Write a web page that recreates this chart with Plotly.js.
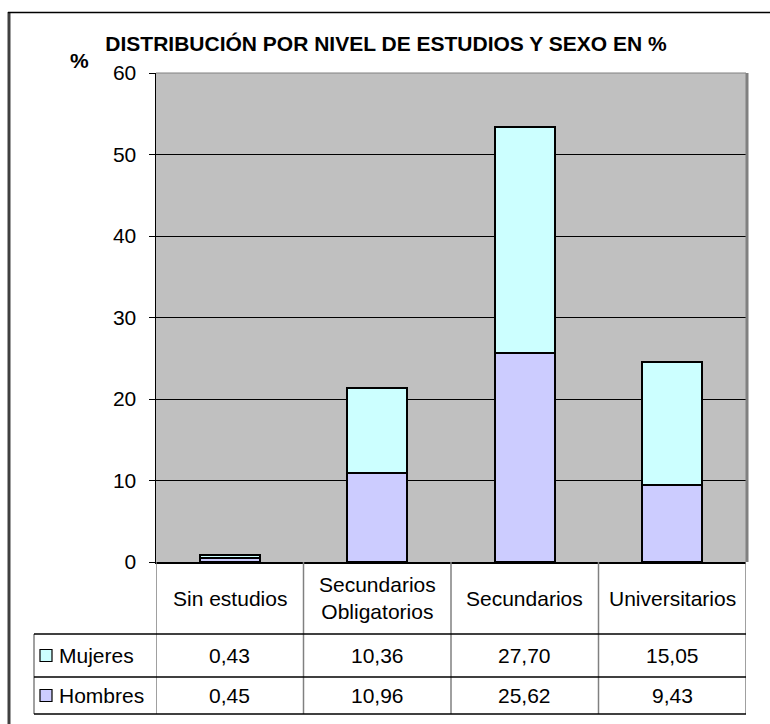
<!DOCTYPE html>
<html>
<head>
<meta charset="utf-8">
<script src="https://cdn.plot.ly/plotly-3.0.1.min.js"></script>
<style>html,body{margin:0;padding:0;background:#fff;}#chart{width:770px;height:724px;}</style>
</head>
<body>
<div id="chart"></div>
<script>
// ---- data ----
const categories = ['Sin estudios', 'Secundarios<br>Obligatorios', 'Secundarios', 'Universitarios'];
const seriesNames = ['Mujeres', 'Hombres'];
const mujeres = [0.43, 10.36, 27.70, 15.05];
const hombres = [0.45, 10.96, 25.62, 9.43];
const yTicks = [0, 10, 20, 30, 40, 50, 60];
const titleText = 'DISTRIBUCIÓN POR NIVEL DE ESTUDIOS Y SEXO EN %';
const yTitle = '%';

// ---- geometry (pixels) ----
const W = 770, H = 724;
const L = 156, R = 746, T = 73, B = 562;
const rowLines = [634, 677, 714];
const px = p => (p - L) / (R - L);
const py = p => (B - p) / (B - T);
const FONT = 'Liberation Sans, Arial, sans-serif';
const FS = 21;
const colM = '#CCFFFF', colH = '#CCCCFF';

const xs = categories.map((c, i) => i);
const fmt = v => v.toFixed(2).replace('.', ',');

const traces = [
  {type: 'bar', name: seriesNames[1], x: xs, y: hombres, width: 0.41,
   marker: {color: colH, line: {color: '#000', width: 2}}, hoverinfo: 'skip'},
  {type: 'bar', name: seriesNames[0], x: xs, y: mujeres, width: 0.41,
   marker: {color: colM, line: {color: '#000', width: 2}}, hoverinfo: 'skip'}
];

const shapes = [];
const annotations = [];
// outer frame
shapes.push({type: 'line', xref: 'paper', yref: 'paper', x0: px(9), x1: px(9), y0: py(12), y1: py(740), line: {color: '#404040', width: 3}});
shapes.push({type: 'line', xref: 'paper', yref: 'paper', x0: px(8), x1: px(790), y0: py(12.5), y1: py(12.5), line: {color: '#000', width: 1.5}});
// plot border
shapes.push({type: 'line', xref: 'paper', yref: 'paper', x0: 0, x1: 1, y0: 1, y1: 1, line: {color: '#808080', width: 1}});
shapes.push({type: 'line', xref: 'paper', yref: 'paper', x0: px(R + 1), x1: px(R + 1), y0: 1, y1: 0, line: {color: '#808080', width: 3}});
// table vertical lines
for (let i = 0; i <= categories.length; i++) {
  shapes.push({type: 'line', xref: 'x', yref: 'paper', x0: i - 0.5, x1: i - 0.5, y0: py(B), y1: py(rowLines[2]), line: {color: '#808080', width: 1.5}});
}
shapes.push({type: 'line', xref: 'paper', yref: 'paper', x0: px(34), x1: px(34), y0: py(rowLines[0]), y1: py(rowLines[2]), line: {color: '#808080', width: 1.5}});
// table horizontal lines
rowLines.forEach(r => {
  shapes.push({type: 'line', xref: 'paper', yref: 'paper', x0: px(34), x1: 1, y0: py(r), y1: py(r), line: {color: '#000', width: 1.5}});
});
// header labels
categories.forEach((c, i) => {
  annotations.push({xref: 'x', yref: 'paper', x: i, y: py((B + rowLines[0]) / 2), text: c, showarrow: false,
    font: {family: FONT, size: FS, color: '#000'}, xanchor: 'center', yanchor: 'middle'});
});
// series rows
const rows = [[seriesNames[0], mujeres, colM], [seriesNames[1], hombres, colH]];
rows.forEach((r, k) => {
  const yc = (rowLines[k] + rowLines[k + 1]) / 2;
  r[1].forEach((v, i) => {
    annotations.push({xref: 'x', yref: 'paper', x: i, y: py(yc), text: fmt(v), showarrow: false,
      font: {family: FONT, size: FS, color: '#000'}, xanchor: 'center', yanchor: 'middle'});
  });
  shapes.push({type: 'rect', xref: 'paper', yref: 'paper', x0: px(40), x1: px(52), y0: py(yc - 6), y1: py(yc + 6),
    fillcolor: r[2], line: {color: '#000', width: 1.2}});
  annotations.push({xref: 'paper', yref: 'paper', x: px(57), y: py(yc), text: r[0], showarrow: false,
    font: {family: FONT, size: FS, color: '#000'}, xanchor: 'left', yanchor: 'middle'});
});
// y title
annotations.push({xref: 'paper', yref: 'paper', x: px(79), y: py(61), text: '<b>' + yTitle + '</b>', showarrow: false,
  font: {family: FONT, size: FS, color: '#000'}, xanchor: 'center', yanchor: 'middle'});

const layout = {
  width: W, height: H,
  margin: {l: L, r: W - R, t: T, b: H - B, pad: 0},
  paper_bgcolor: '#fff', plot_bgcolor: '#C0C0C0',
  barmode: 'stack', showlegend: false, bargap: 0.59,
  title: {text: '<b>' + titleText + '</b>', x: px(386), xref: 'paper', xanchor: 'center',
    y: 1 - 44 / H, yref: 'container', yanchor: 'middle',
    font: {family: FONT, size: FS, color: '#000'}},
  xaxis: {range: [-0.5, categories.length - 0.5], showticklabels: false, ticks: '', showgrid: false,
    zeroline: false, showline: true, linecolor: '#000', linewidth: 1.5, fixedrange: true},
  yaxis: {range: [0, 60], tickvals: yTicks, ticktext: yTicks.map(String), ticks: 'outside', ticklen: 6,
    tickcolor: '#000', tickwidth: 1, showline: true, linecolor: '#000', linewidth: 1.5,
    gridcolor: '#000', gridwidth: 1, zeroline: false, ticklabelstandoff: 8,
    tickfont: {family: FONT, size: FS, color: '#000'}, fixedrange: true},
  shapes: shapes, annotations: annotations,
  font: {family: FONT}
};

Plotly.newPlot('chart', traces, layout, {displayModeBar: false, staticPlot: true});
</script>
</body>
</html>
